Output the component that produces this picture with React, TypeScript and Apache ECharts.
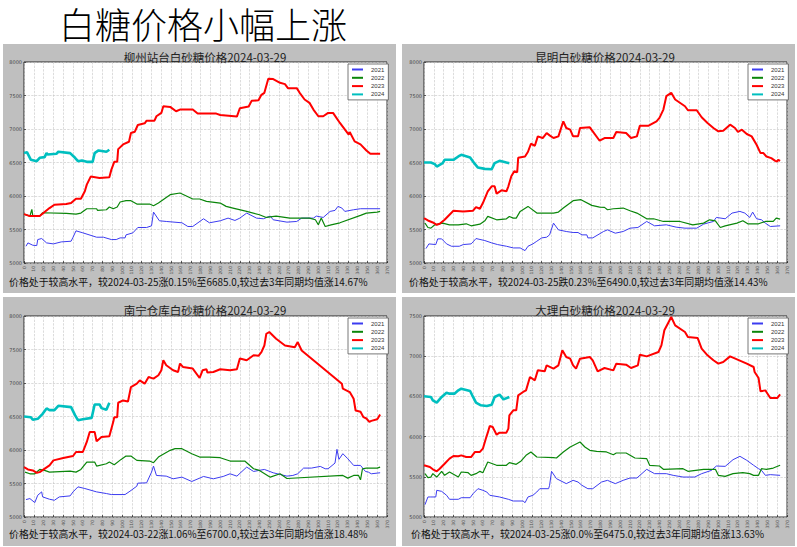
import React, { useEffect, useRef } from "react";
import * as echarts from "echarts";

const mainTitle = "白糖价格小幅上涨";
const years = ["2021", "2022", "2023", "2024"];
const xTicksMax = 370;
const xInterval = 10;
const yInterval = 500;

const panelTitles = [
  "柳州站台白砂糖价格2024-03-29",
  "昆明白砂糖价格2024-03-29",
  "南宁仓库白砂糖价格2024-03-29",
  "大理白砂糖价格2024-03-29",
];
const panelNotes = [
  "价格处于较高水平，较2024-03-25涨0.15%至6685.0,较过去3年同期均值涨14.67%",
  "价格处于较高水平，较2024-03-25跌0.23%至6490.0,较过去3年同期均值涨14.43%",
  "价格处于较高水平，较2024-03-22涨1.06%至6700.0,较过去3年同期均值涨18.48%",
  "价格处于较高水平，较2024-03-25涨0.0%至6475.0,较过去3年同期均值涨13.63%",
];
const yMins = [5000, 5000, 5000, 5000];
const yMaxs = [8000, 8000, 8000, 7500];

// 柳州
const liuzhou2021: [number, number][] = [
  [2,5250],[4,5300],[9,5265],[13,5260],[14,5350],[18,5365],[23,5300],[30,5285],[38,5315],[48,5325],[50,5385],[53,5480],[60,5450],[74,5385],[81,5385],[89,5350],[94,5350],[98,5375],[103,5375],[104,5420],[111,5450],[116,5530],[125,5530],[130,5555],[132,5760],[138,5630],[145,5620],[161,5600],[167,5545],[172,5545],[183,5660],[189,5600],[200,5630],[208,5670],[215,5635],[220,5670],[227,5745],[237,5670],[244,5660],[251,5700],[254,5645],[268,5610],[278,5620],[283,5670],[295,5670],[298,5700],[305,5680],[312,5770],[317,5785],[320,5845],[324,5820],[327,5770],[336,5795],[343,5810],[363,5810],
];
const liuzhou2022: [number, number][] = [
  [0,5730],[6,5700],[8,5800],[9,5700],[16,5700],[19,5750],[43,5740],[53,5730],[58,5745],[64,5810],[74,5810],[75,5785],[84,5795],[87,5835],[91,5810],[95,5835],[98,5910],[104,5930],[109,5930],[115,5880],[128,5880],[132,5855],[137,5895],[149,6020],[159,6045],[172,5955],[179,5955],[186,5920],[200,5895],[206,5845],[213,5820],[227,5770],[240,5720],[247,5680],[257,5700],[271,5670],[291,5670],[297,5645],[300,5570],[303,5670],[307,5545],[313,5570],[322,5600],[343,5710],[349,5745],[360,5760],[363,5770],
];
const liuzhou2023: [number, number][] = [
  [0,5730],[6,5700],[16,5700],[26,5820],[31,5870],[43,5880],[48,5895],[53,5960],[58,5960],[62,6070],[64,6170],[68,6290],[77,6270],[87,6280],[89,6390],[92,6510],[95,6510],[96,6700],[101,6770],[107,6810],[109,6940],[113,6960],[116,7060],[123,7085],[125,7125],[133,7125],[135,7190],[140,7240],[142,7340],[149,7330],[155,7265],[159,7290],[172,7290],[177,7230],[196,7230],[200,7210],[217,7185],[220,7310],[229,7335],[232,7420],[239,7430],[242,7510],[245,7540],[249,7750],[254,7745],[261,7690],[266,7670],[269,7610],[278,7610],[281,7540],[286,7440],[291,7390],[295,7290],[300,7190],[305,7190],[310,7240],[315,7240],[322,7090],[331,6915],[332,6955],[337,6815],[343,6770],[349,6680],[353,6630],[363,6630],
];
const liuzhou2024: [number, number][] = [
  [0,6640],[3,6655],[7,6540],[13,6520],[16,6570],[21,6580],[23,6640],[24,6620],[33,6630],[35,6660],[47,6640],[52,6570],[55,6520],[59,6530],[64,6510],[70,6510],[72,6640],[76,6680],[84,6660],[87,6690],
];

// 昆明
const kunming2021: [number, number][] = [
  [2,5215],[5,5285],[12,5275],[14,5360],[18,5360],[23,5285],[28,5250],[36,5250],[40,5275],[48,5285],[50,5315],[53,5365],[62,5335],[69,5300],[75,5275],[84,5250],[91,5225],[98,5225],[103,5185],[106,5250],[111,5285],[115,5325],[120,5375],[125,5385],[128,5420],[132,5595],[137,5495],[145,5470],[152,5455],[157,5455],[161,5420],[166,5420],[167,5375],[172,5375],[183,5470],[187,5495],[195,5445],[203,5470],[210,5520],[218,5530],[227,5620],[235,5555],[247,5570],[257,5535],[266,5520],[278,5520],[285,5580],[295,5620],[298,5680],[307,5660],[314,5745],[322,5770],[327,5745],[332,5680],[335,5760],[339,5660],[344,5645],[348,5595],[353,5545],[363,5555],
];
const kunming2022: [number, number][] = [
  [1,5595],[4,5530],[7,5520],[11,5570],[19,5595],[26,5570],[35,5570],[43,5585],[48,5555],[57,5580],[62,5630],[65,5695],[74,5645],[84,5660],[87,5695],[91,5670],[94,5670],[98,5770],[106,5845],[115,5745],[132,5745],[137,5760],[142,5820],[152,5930],[160,5945],[171,5860],[179,5835],[184,5830],[187,5795],[193,5810],[203,5820],[210,5780],[217,5745],[227,5660],[234,5660],[244,5620],[261,5620],[274,5570],[285,5595],[291,5645],[297,5630],[302,5530],[307,5555],[319,5595],[325,5630],[330,5585],[341,5585],[348,5620],[356,5620],[359,5670],[363,5655],
];
const kunming2023: [number, number][] = [
  [0,5670],[4,5635],[9,5605],[13,5570],[16,5585],[21,5645],[30,5780],[40,5770],[50,5780],[53,5835],[57,5810],[60,5895],[65,6070],[69,6145],[72,6145],[74,6035],[79,6085],[84,6070],[86,6145],[89,6295],[92,6370],[95,6355],[96,6570],[103,6590],[106,6660],[109,6780],[113,6750],[116,6890],[121,6865],[125,6940],[128,6905],[132,6865],[137,6890],[142,7115],[145,7015],[149,6990],[152,6890],[157,6890],[159,7015],[169,7025],[172,6965],[179,6825],[184,6865],[193,6865],[196,6955],[206,6940],[211,6865],[217,6890],[220,7050],[229,7050],[237,7115],[240,7165],[244,7290],[247,7490],[252,7540],[256,7440],[266,7340],[269,7280],[278,7280],[283,7175],[289,7090],[295,7015],[300,6965],[305,6975],[312,7065],[317,7015],[320,6955],[324,6990],[329,6925],[334,6890],[339,6765],[343,6640],[346,6640],[349,6590],[354,6565],[358,6525],[360,6515],[361,6540],[363,6525],
];
const kunming2024: [number, number][] = [
  [0,6500],[7,6500],[11,6475],[13,6440],[16,6465],[19,6490],[21,6540],[30,6540],[35,6590],[38,6615],[47,6575],[52,6475],[55,6425],[62,6405],[69,6400],[72,6490],[77,6525],[84,6500],[87,6490],
];

// 南宁
const nanning2021: [number, number][] = [
  [2,5260],[6,5275],[11,5215],[14,5325],[18,5375],[19,5300],[26,5265],[31,5250],[36,5300],[47,5315],[50,5375],[55,5450],[62,5425],[74,5375],[84,5350],[89,5335],[103,5335],[108,5385],[115,5460],[116,5505],[125,5510],[130,5670],[132,5760],[135,5620],[145,5610],[152,5570],[161,5595],[171,5530],[183,5605],[193,5570],[203,5605],[210,5645],[217,5610],[227,5745],[234,5680],[245,5710],[254,5660],[268,5610],[274,5620],[279,5645],[285,5730],[293,5730],[302,5755],[307,5720],[310,5720],[317,5805],[319,6010],[321,5860],[325,5945],[330,5870],[336,5770],[343,5770],[348,5680],[351,5670],[354,5645],[363,5660],
];
const nanning2022: [number, number][] = [
  [1,5670],[6,5645],[11,5645],[16,5710],[21,5695],[26,5670],[47,5685],[53,5670],[58,5710],[64,5820],[72,5820],[74,5760],[84,5795],[87,5820],[92,5780],[99,5860],[104,5910],[109,5910],[115,5845],[128,5835],[132,5810],[137,5895],[149,5995],[154,6020],[161,6020],[171,5945],[179,5895],[189,5895],[200,5885],[210,5835],[225,5835],[234,5720],[240,5695],[251,5595],[261,5645],[268,5575],[325,5620],[330,5580],[336,5620],[341,5620],[343,5555],[345,5720],[349,5730],[360,5730],[363,5745],
];
const nanning2023: [number, number][] = [
  [0,5745],[4,5710],[9,5695],[13,5660],[16,5670],[26,5770],[30,5845],[40,5880],[50,5910],[53,5970],[60,5970],[64,6120],[67,6270],[72,6270],[74,6130],[79,6195],[87,6205],[91,6420],[92,6490],[95,6490],[96,6705],[101,6740],[106,6725],[109,6940],[115,6990],[118,7040],[123,6990],[127,7090],[132,7065],[137,7115],[140,7190],[142,7340],[145,7265],[152,7190],[157,7165],[159,7290],[162,7240],[172,7215],[179,7075],[182,7190],[186,7205],[187,7155],[193,7165],[200,7205],[210,7190],[217,7205],[220,7365],[227,7340],[234,7415],[239,7405],[242,7460],[245,7560],[247,7735],[250,7760],[257,7660],[266,7560],[276,7535],[279,7610],[283,7485],[324,6990],[325,6915],[332,6865],[336,6765],[338,6590],[343,6570],[346,6490],[349,6470],[352,6420],[354,6435],[360,6460],[361,6480],[363,6530],
];
const nanning2024: [number, number][] = [
  [0,6500],[7,6490],[9,6450],[14,6465],[19,6540],[23,6620],[26,6595],[31,6595],[35,6660],[48,6640],[52,6520],[55,6445],[60,6460],[69,6480],[72,6680],[77,6680],[79,6625],[84,6600],[87,6705],
];

// 大理
const dali2021: [number, number][] = [
  [1,5153],[4,5249],[7,5249],[12,5249],[13,5332],[18,5319],[23,5270],[26,5220],[35,5220],[38,5240],[47,5240],[50,5290],[55,5352],[60,5332],[64,5311],[67,5270],[77,5249],[86,5220],[91,5199],[101,5199],[103,5178],[106,5249],[111,5270],[115,5311],[118,5352],[127,5352],[128,5394],[130,5568],[135,5477],[145,5415],[152,5456],[157,5435],[161,5394],[167,5352],[172,5352],[181,5435],[187,5456],[195,5415],[203,5456],[210,5485],[217,5485],[227,5593],[235,5539],[247,5539],[254,5518],[264,5497],[276,5497],[283,5539],[293,5580],[298,5634],[307,5630],[315,5713],[322,5755],[329,5705],[336,5643],[341,5601],[344,5580],[348,5518],[353,5527],[363,5518],
];
const dali2022: [number, number][] = [
  [1,5539],[4,5489],[7,5497],[9,5539],[13,5497],[18,5568],[21,5518],[26,5560],[35,5497],[38,5560],[45,5551],[48,5518],[53,5539],[57,5568],[60,5551],[65,5684],[74,5643],[84,5643],[87,5676],[94,5655],[99,5697],[104,5767],[109,5809],[115,5746],[132,5738],[135,5734],[142,5809],[149,5871],[159,5933],[164,5871],[169,5829],[176,5817],[186,5809],[193,5775],[196,5796],[206,5796],[215,5734],[227,5726],[230,5643],[240,5634],[244,5593],[264,5601],[269,5568],[285,5593],[297,5593],[300,5518],[307,5506],[315,5539],[325,5551],[332,5539],[336,5518],[341,5518],[344,5601],[349,5593],[356,5609],[363,5643],
];
const dali2023: [number, number][] = [
  [0,5643],[6,5622],[9,5593],[13,5568],[16,5601],[21,5663],[26,5726],[30,5759],[35,5755],[38,5767],[43,5746],[48,5746],[52,5809],[57,5809],[60,5850],[63,5974],[65,6049],[67,6132],[70,6119],[74,6024],[77,6049],[84,6049],[86,6099],[87,6264],[91,6327],[94,6327],[96,6513],[101,6555],[104,6575],[108,6741],[113,6700],[116,6824],[123,6812],[125,6886],[132,6845],[137,6886],[141,7073],[145,6990],[149,6969],[152,6886],[155,6845],[159,6969],[169,6990],[172,6949],[177,6812],[184,6853],[193,6824],[196,6907],[206,6895],[211,6853],[218,6886],[220,7019],[227,6998],[239,7052],[242,7135],[245,7322],[249,7417],[252,7488],[256,7384],[266,7301],[269,7239],[279,7226],[283,7094],[289,7011],[295,6949],[300,6907],[305,6928],[312,6998],[329,6907],[336,6866],[337,6804],[341,6729],[343,6563],[348,6575],[349,6555],[353,6480],[360,6480],[363,6526],
];
const dali2024: [number, number][] = [
  [0,6501],[7,6493],[9,6451],[13,6422],[18,6493],[23,6546],[26,6534],[31,6534],[35,6575],[38,6596],[47,6567],[50,6493],[53,6422],[58,6389],[64,6381],[69,6397],[72,6493],[77,6522],[81,6463],[87,6493],
];

const panelData = [
  [liuzhou2021, liuzhou2022, liuzhou2023, liuzhou2024],
  [kunming2021, kunming2022, kunming2023, kunming2024],
  [nanning2021, nanning2022, nanning2023, nanning2024],
  [dali2021, dali2022, dali2023, dali2024],
];

const lineColors = ["#3c3cf0", "#0a860a", "#ff0000", "#00bfbf"];
const lineWidths = [1, 1.2, 2, 2.6];

// layout
const panelBoxes = [
  { x: 3, y: 44, w: 393, h: 249 },
  { x: 402, y: 44, w: 393, h: 249 },
  { x: 3, y: 297, w: 393, h: 249 },
  { x: 402, y: 297, w: 393, h: 249 },
];
const gridBoxes = [
  { left: 24, top: 62, width: 363, height: 201 },
  { left: 424, top: 62, width: 363, height: 201 },
  { left: 24, top: 316, width: 363, height: 201 },
  { left: 424, top: 316, width: 363, height: 201 },
];
const titlePos = [
  { x: 205, y: 57 },
  { x: 605, y: 57 },
  { x: 205, y: 310 },
  { x: 605, y: 310 },
];
const notePos = [
  { x: 9, y: 282 },
  { x: 409, y: 282 },
  { x: 9, y: 534 },
  { x: 411, y: 534 },
];
const legendPos = [
  { left: 348, top: 64 },
  { left: 748, top: 64 },
  { left: 348, top: 318 },
  { left: 748, top: 318 },
];

const CJK = '"Noto Sans CJK SC", "Noto Sans", sans-serif';

export default function App() {
  const ref = useRef<HTMLDivElement>(null);
  useEffect(() => {
    if (!ref.current) return;
    const chart = echarts.init(ref.current, undefined, { renderer: "svg" });

    const graphics: any[] = [];
    panelBoxes.forEach((b) => {
      graphics.push({
        type: "rect",
        z: -10,
        shape: { x: b.x, y: b.y, width: b.w, height: b.h },
        style: { fill: "#bfbfbf" },
      });
    });
    graphics.push({
      type: "text",
      x: 203,
      y: 23,
      style: {
        text: mainTitle,
        fontSize: 36,
        lineHeight: 36,
        fontFamily: CJK,
        fontWeight: 300,
        fill: "#000",
        textAlign: "center",
        textVerticalAlign: "middle",
      },
    });
    panelTitles.forEach((t, i) => {
      graphics.push({
        type: "text",
        x: titlePos[i].x,
        y: titlePos[i].y,
        style: {
          text: t,
          fontSize: 11.5,
          lineHeight: 12,
          fontFamily: CJK,
          fill: "#222",
          textAlign: "center",
          textVerticalAlign: "middle",
        },
      });
    });
    panelNotes.forEach((t, i) => {
      graphics.push({
        type: "text",
        x: notePos[i].x,
        y: notePos[i].y,
        style: {
          text: t,
          fontSize: 9.9,
          fontFamily: CJK,
          fill: "#111",
          textAlign: "left",
          textVerticalAlign: "middle",
        },
      });
    });

    const grids = gridBoxes.map((g) => ({
      ...g,
      show: true,
      backgroundColor: "#fff",
      borderColor: "#000",
      borderWidth: 0.8,
      containLabel: false,
    }));

    const xAxes = gridBoxes.map((_, i) => ({
      type: "value",
      gridIndex: i,
      min: 0,
      max: xTicksMax,
      interval: xInterval,
      axisLine: { show: false },
      axisTick: { show: true, inside: true, length: 2, lineStyle: { color: "#000", width: 0.6 } },
      axisLabel: { rotate: 90, fontSize: 4.5, color: "#555", margin: 3, fontFamily: "DejaVu Sans", formatter: (v: number) => String(v) },
      splitLine: { show: true, lineStyle: { type: "dashed", color: "#c4c4c4", width: 0.6 } },
    }));
    const yAxes = gridBoxes.map((_, i) => ({
      type: "value",
      gridIndex: i,
      min: yMins[i],
      max: yMaxs[i],
      interval: yInterval,
      axisLine: { show: false },
      axisTick: { show: true, inside: true, length: 2, lineStyle: { color: "#000", width: 0.6 } },
      axisLabel: { fontSize: 5, color: "#444", margin: 2, fontFamily: "DejaVu Sans", formatter: (v: number) => String(v) },
      splitLine: { show: true, lineStyle: { type: "dashed", color: "#c4c4c4", width: 0.6 } },
    }));

    const series: any[] = [];
    panelData.forEach((arrs, p) => {
      arrs.forEach((d, k) => {
        series.push({
          type: "line",
          name: years[k],
          xAxisIndex: p,
          yAxisIndex: p,
          data: d,
          symbol: "none",
          showSymbol: false,
          silent: true,
          z: 2 + k,
          lineStyle: { color: lineColors[k], width: lineWidths[k] },
          itemStyle: { color: lineColors[k] },
        });
      });
    });

    const legends = legendPos.map((lp) => ({
      left: lp.left,
      top: lp.top,
      orient: "vertical",
      data: years.map((y, k) => ({
        name: y,
        icon: "rect",
        itemStyle: { color: lineColors[k] },
      })),
      itemWidth: 11,
      itemHeight: 2,
      itemGap: 1.3,
      padding: [2, 4, 2, 4],
      borderColor: "#555",
      borderWidth: 0.8,
      backgroundColor: "#fff",
      selectedMode: false,
      textStyle: { fontSize: 6, color: "#333", lineHeight: 7, padding: [0, 0, 0, 3] },
    }));

    chart.setOption({
      animation: false,
      backgroundColor: "#fff",
      grid: grids,
      xAxis: xAxes,
      yAxis: yAxes,
      legend: legends,
      series,
      graphic: graphics,
    });
    return () => chart.dispose();
  }, []);
  return (
    <div
      ref={ref}
      style={{ position: "fixed", left: 0, top: 0, width: 797, height: 547 }}
    />
  );
}
